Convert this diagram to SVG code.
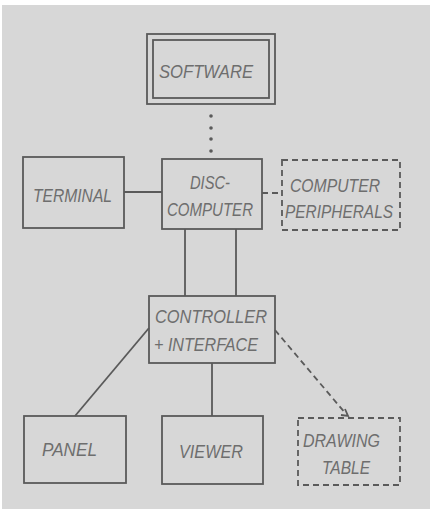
<svg xmlns="http://www.w3.org/2000/svg" width="430" height="509" viewBox="0 0 430 509">
<style>
.box{fill:none;stroke:#5a5a5a;stroke-width:1.8}
.dash{fill:none;stroke:#5a5a5a;stroke-width:1.8;stroke-dasharray:6 4}
.ln{fill:none;stroke:#5a5a5a;stroke-width:1.8}
text{font-family:"Liberation Sans",Arial,sans-serif;font-style:italic;font-size:19px;fill:#6e6e6e}
</style>
<rect width="430" height="509" fill="#ffffff"/>
<rect x="2" y="5" width="428" height="504" fill="#d7d7d7"/>
<g id="connectors">
<g fill="#5a5a5a"><circle cx="211" cy="116" r="1.8"/><circle cx="211" cy="128" r="1.8"/><circle cx="211" cy="139" r="1.8"/><circle cx="211" cy="151" r="1.8"/></g>
<line class="ln" x1="124" y1="192" x2="162" y2="192"/>
<line class="dash" x1="262" y1="193" x2="282" y2="193" stroke-dasharray="5 3"/>
<line class="ln" x1="185" y1="229" x2="185" y2="296"/>
<line class="ln" x1="236" y1="229" x2="236" y2="296"/>
<line class="ln" x1="149" y1="328" x2="75" y2="416"/>
<line class="ln" x1="212" y1="363" x2="212" y2="416"/>
<line class="dash" x1="275" y1="330" x2="346" y2="414"/>
<path class="ln" d="M341 415 L348 416 L345 409"/>
</g>
<g id="software"><rect class="box" x="147" y="34" width="128" height="70" stroke-width="2"/><rect class="box" x="153" y="40" width="116" height="58" stroke-width="1.5"/><text x="159" y="78" textLength="94" lengthAdjust="spacingAndGlyphs">SOFTWARE</text></g>
<g id="terminal"><rect class="box" x="23" y="157" width="101" height="71"/><text x="33" y="202" textLength="79" lengthAdjust="spacingAndGlyphs">TERMINAL</text></g>
<g id="disc-computer"><rect class="box" x="162" y="159" width="100" height="70"/><text x="190" y="189" textLength="40" lengthAdjust="spacingAndGlyphs">DISC-</text><text x="167" y="216" textLength="86" lengthAdjust="spacingAndGlyphs">COMPUTER</text></g>
<g id="peripherals"><rect class="dash" x="282" y="160" width="118" height="70"/><text x="290" y="192" textLength="90" lengthAdjust="spacingAndGlyphs">COMPUTER</text><text x="285" y="218" textLength="108" lengthAdjust="spacingAndGlyphs">PERIPHERALS</text></g>
<g id="controller"><rect class="box" x="149" y="296" width="126" height="67"/><text x="155" y="323" textLength="112" lengthAdjust="spacingAndGlyphs">CONTROLLER</text><text x="154" y="351" textLength="104" lengthAdjust="spacingAndGlyphs">+ INTERFACE</text></g>
<g id="panel"><rect class="box" x="24" y="416" width="102" height="67"/><text x="42" y="456" textLength="55" lengthAdjust="spacingAndGlyphs">PANEL</text></g>
<g id="viewer"><rect class="box" x="162" y="416" width="101" height="68"/><text x="179" y="458" textLength="64" lengthAdjust="spacingAndGlyphs">VIEWER</text></g>
<g id="drawing-table"><rect class="dash" x="298" y="418" width="102" height="67"/><text x="303" y="447" textLength="77" lengthAdjust="spacingAndGlyphs">DRAWING</text><text x="322" y="474" textLength="48" lengthAdjust="spacingAndGlyphs">TABLE</text></g>
</svg>
